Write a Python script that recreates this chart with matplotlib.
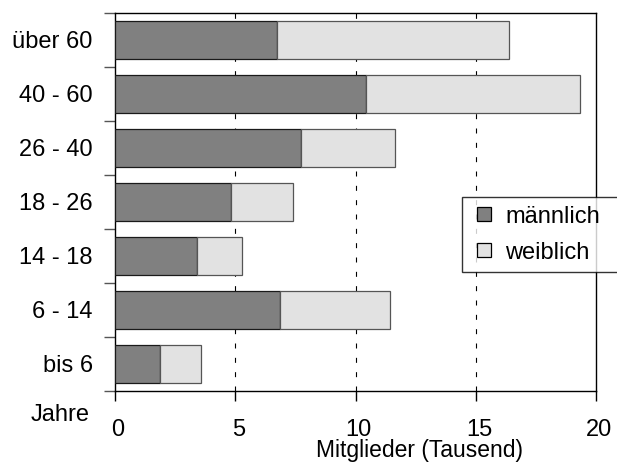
import matplotlib
matplotlib.use("Agg")
import matplotlib.pyplot as plt
import matplotlib.transforms as mtransforms
from matplotlib.lines import Line2D
import numpy as np

plt.rcParams['font.family'] = ['Liberation Sans', 'DejaVu Sans']

categories = ["bis 6", "6 - 14", "14 - 18", "18 - 26", "26 - 40", "40 - 60", "über 60"]
maennlich = [1.87, 6.85, 3.42, 4.80, 7.71, 10.42, 6.73]
weiblich = [1.70, 4.57, 1.87, 2.59, 3.94, 8.90, 9.66]
xticks = [0, 5, 10, 15, 20]
series_labels = ["männlich", "weiblich"]
series_colors = ["#808080", "#e2e2e2"]

W, H = 617, 462
fig = plt.figure(figsize=(W / 100, H / 100), dpi=100)
ax = fig.add_axes([115 / W, 1 - 391 / H, (596.3 - 115) / W, (391 - 13) / H])

y = np.arange(len(categories))
ax.barh(y, maennlich, height=0.72, color=series_colors[0], edgecolor="#1a1a1a",
        linewidth=0.9, zorder=3)
ax.barh(y, weiblich, left=maennlich, height=0.72, color=series_colors[1],
        edgecolor="#555555", linewidth=0.9, zorder=3)

ax.set_xlim(0, 20)
ax.set_ylim(-0.5, len(categories) - 0.5)

for xv in [5, 10, 15]:
    ax.axvline(xv, color="black", linewidth=0.8, linestyle=(0, (4.5, 8.4)), zorder=1)

ax.set_xticks(xticks)
ax.set_xticklabels([str(v) for v in xticks], fontsize=17)
ax.set_yticks(y)
ax.set_yticklabels(categories, fontsize=17)
ax.set_yticks(np.arange(len(categories) + 1) - 0.5, minor=True)
ax.tick_params(axis="y", which="major", length=0, pad=16)
ax.tick_params(axis="y", which="minor", length=8, width=1, color="#555555", direction="out")
ax.tick_params(axis="x", which="major", length=7, width=1, direction="out", pad=13)

shift = mtransforms.ScaledTranslation(3 / 100, 0, fig.dpi_scale_trans)
for lbl in ax.get_xticklabels():
    lbl.set_transform(lbl.get_transform() + shift)

for s in ax.spines.values():
    s.set_linewidth(1.0)
    s.set_color("black")

ax.set_xlabel("Mitglieder (Tausend)", fontsize=16.5, labelpad=0)
ax.xaxis.label.set_va("baseline")
ax.xaxis.set_label_coords((420 - 115) / 481.3, -(456.7 - 391) / 378)

fig.text(90 / W, 1 - 420.7 / H, "Jahre", fontsize=17, ha="right", va="baseline")

handles = [Line2D([], [], linestyle="none", marker="s", markersize=10.1,
                  markerfacecolor=c, markeredgecolor="black", markeredgewidth=0.9)
           for c in series_colors]
leg = ax.legend(handles, series_labels, loc="upper left",
                bbox_to_anchor=(462.3 / W, 1 - 272.5 / H, (625 - 462.3) / W, (272.5 - 197.3) / H),
                bbox_transform=fig.transFigure, mode="expand",
                fontsize=17, frameon=True, fancybox=False, shadow=False,
                handlelength=1.11, handletextpad=0.35,
                borderpad=0.35, labelspacing=0.6, borderaxespad=0)
leg.get_frame().set_edgecolor("black")
leg.get_frame().set_linewidth(1.0)

fig.savefig("out.png", dpi=100)
